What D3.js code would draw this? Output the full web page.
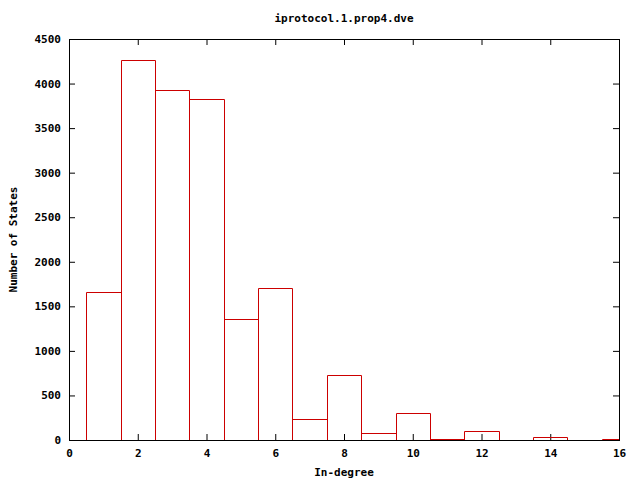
<!DOCTYPE html>
<html><head><meta charset="utf-8">
<script src="https://cdn.jsdelivr.net/npm/d3@7"></script>
<style>
body{margin:0;background:#fff;}
text{font-family:"DejaVu Sans Mono","Liberation Mono",monospace;font-weight:bold;font-size:11px;fill:#000;}
</style></head>
<body><svg id="c" width="640" height="480"></svg>
<script>
const title = "iprotocol.1.prop4.dve";
const xLabel = "In-degree";
const yLabel = "Number of States";
const degrees = [1,2,3,4,5,6,7,8,9,10,11,12,13,14,15,16];
const counts  = [1657,4261,3924,3823,1354,1702,232,726,75,300,8,98,0,33,0,8];
const xTicks = [0,2,4,6,8,10,12,14,16];
const yTicks = [0,500,1000,1500,2000,2500,3000,3500,4000,4500];

const svg = d3.select("#c");
const L=69, R=619, T=39, B=440;
const x = d3.scaleLinear().domain([0,16]).range([L,R]);
const y = d3.scaleLinear().domain([0,4500]).range([B,T]);

svg.append("rect").attr("width",640).attr("height",480).attr("fill","#fff");

svg.append("defs").append("clipPath").attr("id","clip")
  .append("rect").attr("x",L).attr("y",T).attr("width",R-L).attr("height",B-T);

// axes (inward ticks, mirrored)
const tl=6;
const fmt=d3.format("d");
const gx=svg.append("g").attr("transform",`translate(0,${B})`)
  .call(d3.axisBottom(x).tickValues(xTicks).tickSize(-tl).tickFormat(fmt));
const gxt=svg.append("g").attr("transform",`translate(0,${T})`)
  .call(d3.axisTop(x).tickValues(xTicks).tickSize(-tl).tickFormat(""));
const gy=svg.append("g").attr("transform",`translate(${L},0)`)
  .call(d3.axisLeft(y).tickValues(yTicks).tickSize(-tl).tickFormat(fmt));
const gyr=svg.append("g").attr("transform",`translate(${R},0)`)
  .call(d3.axisRight(y).tickValues(yTicks).tickSize(-tl).tickFormat(""));
[gx,gxt,gy,gyr].forEach(g=>{
  g.select(".domain").remove();
  g.selectAll("line").attr("stroke","#000");
  g.selectAll("text").attr("font-family",null).attr("font-size",null);
});
gx.selectAll("text").attr("dy","0.35em").attr("y",13);
gy.selectAll("text").attr("x",-8);

svg.append("rect").attr("x",L+0.5).attr("y",T+0.5).attr("width",R-L).attr("height",B-T)
  .attr("fill","none").attr("stroke","#000");

// bars
svg.append("g").attr("clip-path","url(#clip)")
  .selectAll("path").data(degrees.map((d,i)=>({d,v:counts[i]})).filter(o=>o.v>0))
  .enter().append("path")
  .attr("d",o=>{
    const x0=Math.round(x(o.d-0.5))+0.5, x1=Math.round(x(o.d+0.5))+0.5;
    const y0=B+0.5, y1=Math.round(y(o.v))+0.5;
    return `M${x0},${y0}V${y1}H${x1}V${y0}`;
  })
  .attr("fill","none").attr("stroke","#cc0000").attr("stroke-width",1);

svg.append("text").attr("x",(L+R)/2).attr("y",22).attr("text-anchor","middle").text(title);
svg.append("text").attr("x",(L+R)/2).attr("y",476).attr("text-anchor","middle").text(xLabel);
svg.append("text").attr("transform",`translate(17,${(T+B)/2}) rotate(-90)`).attr("text-anchor","middle").text(yLabel);
</script></body></html>
